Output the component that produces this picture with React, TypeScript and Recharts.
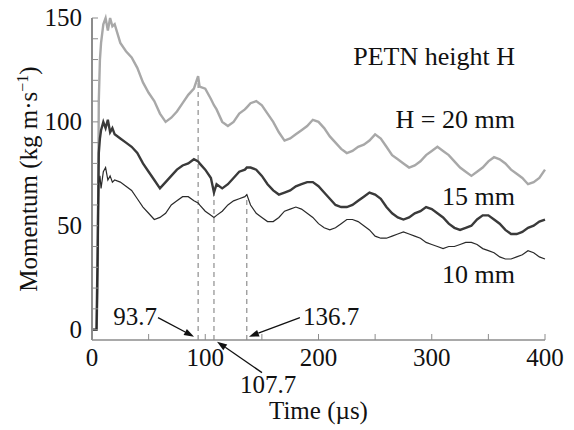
import React from 'react';
import { LineChart, Line, XAxis, YAxis, ReferenceLine, ReferenceDot } from 'recharts';

const FONT = '"Liberation Serif", "Times New Roman", serif';
const INK = '#111';
const FRAME = '#8c8c8c';

// time (µs)
const times = [
  0, 3, 4, 5, 6, 7, 8, 10, 12, 14, 16, 18, 20,
  25, 30, 35, 40, 45, 50, 55, 60, 65, 70, 75, 80, 85, 90,
  93.7, 95, 100, 105, 107.7,
  110, 115, 120, 125, 130, 135,
  136.7,
  140, 145, 150, 155, 160, 165, 170, 175, 180, 185, 190, 195, 200, 205, 210,
  215, 220, 225, 230, 235, 240, 245, 250, 255, 260, 265, 270, 275, 280, 285,
  290, 295, 300, 305, 310, 315, 320, 325, 330, 335, 340, 345, 350, 355, 360,
  365, 370, 375, 380, 385, 390, 395, 400,
];

// momentum, H = 20 mm
const h20 = [
  0, 0, 0, 20, 110, 130, 138, 147, 150, 144, 150, 146, 147,
  138, 134, 131, 126, 119, 114, 110, 104, 100, 102, 105, 109, 113, 116,
  122, 117, 116, 111, 108,
  106, 100, 98, 100, 104, 106,
  107,
  109, 110, 108, 104, 100, 95, 91, 92, 94, 96, 98, 101, 100, 97, 93,
  90, 87, 85, 86, 88, 89, 91, 94, 92, 88, 84, 82, 80, 78, 79,
  81, 84, 86, 88, 86, 84, 81, 78, 76, 74, 76, 78, 81, 83, 82,
  80, 77, 75, 73, 70, 71, 73, 77,
];

// momentum, H = 15 mm
const h15 = [
  0, 0, 0, 40, 85, 92, 96, 100, 97, 101, 95, 97, 94,
  92, 90, 88, 85, 80, 76, 72, 68, 71, 74, 77, 79, 80, 82,
  81, 80, 77, 73, 66,
  70, 68, 70, 73, 76, 77,
  78,
  78, 77, 74, 70, 67, 65, 66, 67, 69, 70, 71, 71, 69, 66, 63,
  60, 59, 59, 60, 62, 64, 66, 65, 63, 59, 56, 54, 53, 54, 56,
  57, 59, 58, 56, 54, 51, 49, 48, 49, 50, 53, 55, 55, 53, 51,
  48, 46, 46, 47, 49, 50, 52, 53,
];

// momentum, H = 10 mm
const h10 = [
  0, 0, 0, 30, 70, 74, 68, 76, 78, 72, 74, 71, 72,
  71, 69, 67, 63, 59, 56, 53, 54, 56, 60, 62, 64, 64, 62,
  61, 60, 57, 55, 54,
  55, 57, 60, 62, 63, 64,
  65,
  60, 56, 54, 52, 52, 54, 57, 58, 59, 58, 56, 54, 51, 49, 48,
  49, 51, 53, 53, 52, 50, 48, 45, 44, 44, 45, 46, 47, 46, 45,
  44, 42, 41, 40, 39, 40, 40, 41, 42, 42, 41, 39, 38, 37, 35,
  34, 34, 35, 36, 38, 37, 35, 34,
];

const xTicks = [0, 50, 100, 150, 200, 250, 300, 350, 400];
const yTicks = [0, 10, 20, 30, 40, 50, 60, 70, 80, 90, 100, 110, 120, 130, 140, 150];

const rows = times.map((t, i) => ({ t, h20: h20[i], h15: h15[i], h10: h10[i] }));
const at = (arr: number[], t: number) => arr[times.indexOf(t)];

const txt = { fontFamily: FONT, fontSize: 25, fill: INK };
const big = { fontFamily: FONT, fontSize: 26, fill: INK };

const BottomTick = (p: any) => (
  <g>
    <line x1={p.x} y1={p.y} x2={p.x} y2={p.y - 6} stroke={FRAME} />
    {p.payload.value % 100 === 0 && (
      <text x={p.x} y={p.y + 26} textAnchor="middle" {...txt}>{p.payload.value}</text>
    )}
  </g>
);
const TopTick = (p: any) => <line x1={p.x} y1={p.y} x2={p.x} y2={p.y + 6} stroke={FRAME} />;
const LeftTick = (p: any) => (
  <g>
    <line x1={p.x} y1={p.y} x2={p.x + 6} y2={p.y} stroke={FRAME} />
    {p.payload.value % 50 === 0 && (
      <text x={p.x - 10} y={p.y + 8} textAnchor="end" {...txt}>{p.payload.value}</text>
    )}
  </g>
);
const RightTick = (p: any) => <line x1={p.x} y1={p.y} x2={p.x - 6} y2={p.y} stroke={FRAME} />;

const Note = (label: string, anchor: 'start' | 'end', style = txt) => (p: any) => (
  <text x={p.cx} y={p.cy} textAnchor={anchor} {...style}>{label}</text>
);

// arrow drawn from (x1,y1) to head at (x2,y2)
const Arrow = (p: any) => {
  const { x1, y1, x2, y2 } = p;
  const a = Math.atan2(y2 - y1, x2 - x1);
  const L = 10, W = 3.5;
  const bx = x2 - L * Math.cos(a), by = y2 - L * Math.sin(a);
  const pts = `${x2},${y2} ${bx - W * Math.sin(a)},${by + W * Math.cos(a)} ${bx + W * Math.sin(a)},${by - W * Math.cos(a)}`;
  return (
    <g>
      <line x1={x1} y1={y1} x2={bx} y2={by} stroke={INK} strokeWidth={1.3} />
      <polygon points={pts} fill={INK} />
    </g>
  );
};

const YTitle = () => (
  <text transform="rotate(-90, 37, 179)" x={37} y={179} textAnchor="middle" {...txt}>
    Momentum (kg m·s
    <tspan fontSize={16} dy={-9}>−1</tspan>
    <tspan dy={9}>)</tspan>
  </text>
);

const ax = { xAxisId: 'b', yAxisId: 'l' };

export default function App() {
  return (
    <div style={{ position: 'absolute', left: 0, top: 0, background: '#fff' }}>
      <LineChart width={574} height={430} data={rows} margin={{ top: 18, right: 29, left: 0, bottom: 0 }}>
        <XAxis
          xAxisId="b"
          dataKey="t"
          type="number"
          domain={[0, 400]}
          ticks={xTicks}
          interval={0}
          height={90}
          tickSize={0}
          tickMargin={0}
          tickLine={false}
          tick={BottomTick}
          axisLine={{ stroke: FRAME, strokeWidth: 1.5 }}
          label={{ value: 'Time (µs)', position: 'insideBottom', offset: 11, style: txt }}
        />
        <XAxis
          xAxisId="t"
          orientation="top"
          dataKey="t"
          type="number"
          domain={[0, 400]}
          ticks={xTicks}
          interval={0}
          height={0}
          tickSize={0}
          tickMargin={0}
          tickLine={false}
          tick={TopTick}
          axisLine={{ stroke: FRAME, strokeWidth: 1.5 }}
        />
        <YAxis
          yAxisId="l"
          type="number"
          domain={[-5, 150]}
          ticks={yTicks}
          interval={0}
          width={92}
          tickSize={0}
          tickMargin={0}
          tickLine={false}
          tick={LeftTick}
          axisLine={{ stroke: FRAME, strokeWidth: 2 }}
          label={{ content: YTitle }}
        />
        <YAxis
          yAxisId="r"
          orientation="right"
          type="number"
          domain={[-5, 150]}
          ticks={yTicks}
          interval={0}
          width={0}
          tickSize={0}
          tickMargin={0}
          tickLine={false}
          tick={RightTick}
          axisLine={{ stroke: FRAME, strokeWidth: 1.5 }}
        />

        <ReferenceLine {...ax} ifOverflow="visible" stroke="#777" strokeDasharray="5 4"
          segment={[{ x: 93.7, y: -5 }, { x: 93.7, y: at(h20, 93.7) }]} />
        <ReferenceLine {...ax} ifOverflow="visible" stroke="#777" strokeDasharray="5 4"
          segment={[{ x: 107.7, y: -5 }, { x: 107.7, y: at(h15, 107.7) }]} />
        <ReferenceLine {...ax} ifOverflow="visible" stroke="#777" strokeDasharray="5 4"
          segment={[{ x: 136.7, y: -5 }, { x: 136.7, y: at(h10, 136.7) }]} />

        <Line {...ax} type="linear" dataKey="h20" stroke="#a8a8a8" strokeWidth={2.4} dot={false} isAnimationActive={false} />
        <Line {...ax} type="linear" dataKey="h15" stroke="#3a3a3a" strokeWidth={2.4} dot={false} isAnimationActive={false} />
        <Line {...ax} type="linear" dataKey="h10" stroke="#2a2a2a" strokeWidth={1.2} dot={false} isAnimationActive={false} />

        <ReferenceLine {...ax} ifOverflow="visible" shape={Arrow}
          segment={[{ x: 58.3, y: 5.8 }, { x: 90.1, y: -3.4 }]} />
        <ReferenceLine {...ax} ifOverflow="visible" shape={Arrow}
          segment={[{ x: 150.1, y: -20.7 }, { x: 110.4, y: -5.8 }]} />
        <ReferenceLine {...ax} ifOverflow="visible" shape={Arrow}
          segment={[{ x: 183.6, y: 5.8 }, { x: 138.6, y: -3.4 }]} />

        <ReferenceDot {...ax} ifOverflow="visible" x={57.4} y={2.4} r={0} shape={Note('93.7', 'end')} />
        <ReferenceDot {...ax} ifOverflow="visible" x={130.7} y={-30.3} r={0} shape={Note('107.7', 'start')} />
        <ReferenceDot {...ax} ifOverflow="visible" x={186.3} y={2.4} r={0} shape={Note('136.7', 'start')} />

        <ReferenceDot {...ax} x={373.5} y={127.4} r={0} shape={Note('PETN height H', 'end', big)} />
        <ReferenceDot {...ax} x={373.5} y={97.1} r={0} shape={Note('H = 20 mm', 'end', big)} />
        <ReferenceDot {...ax} x={373.5} y={60.1} r={0} shape={Note('15 mm', 'end', big)} />
        <ReferenceDot {...ax} x={373.5} y={22.6} r={0} shape={Note('10 mm', 'end', big)} />
      </LineChart>
    </div>
  );
}
